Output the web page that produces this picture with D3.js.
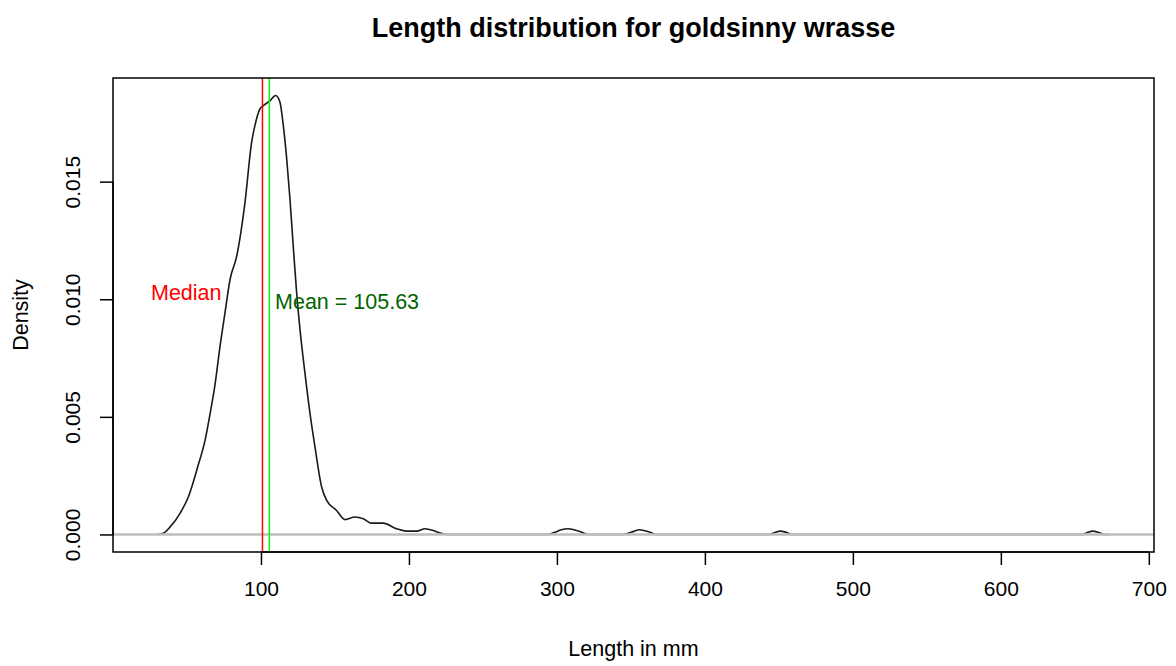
<!DOCTYPE html>
<html lang="en">
<head>
<meta charset="utf-8">
<title>Length distribution for goldsinny wrasse</title>
<script src="https://d3js.org/d3.v7.min.js"></script>
<style>
  body { margin: 0; background: #fff; }
  text { font-family: "Liberation Sans", Arial, sans-serif; }
</style>
</head>
<body>
<svg width="1176" height="666"></svg>
<script>
// density estimate (length in mm, density)
var lengths = [30, 34, 38.5, 45.3, 50.9, 57.6, 62.2, 65.5, 68.9, 72.3, 75.7, 79.1, 83.6, 89.2, 93.7, 95.9, 99.3, 101.6, 106.1, 109.9,
  112.8, 115.1, 117.4, 119.6, 121.8, 124.1, 126.4, 129.7, 133.1, 136.5, 141.0, 144.4, 151.1, 156.8, 163.5, 169.1, 174.8, 182.6,
  191.7, 198.4, 205.2, 210.8, 216.4, 221, 226, 294, 298.6, 303, 307.6, 311.5, 315.5, 321, 344.6, 350.7, 356.1, 362.8, 367.6,
  443.9, 447.5, 451.1, 454.8, 458.6, 655.4, 658.8, 662.2, 665.9, 669.6, 674]
var densities = [0, 0.00005, 0.00031, 0.0009, 0.00159, 0.00295, 0.004, 0.0051, 0.00635, 0.00799, 0.00943, 0.01084, 0.01183, 0.01412, 0.01668, 0.01738, 0.01809, 0.01823, 0.01844, 0.01866,
  0.01839, 0.01738, 0.01596, 0.01425, 0.01226, 0.01028, 0.0087, 0.00687, 0.00516, 0.00372, 0.00202, 0.00145, 0.00102, 0.00063, 0.00074, 0.00067, 0.00048, 0.00048,
  0.00024, 0.00014, 0.00014, 0.00024, 0.00017, 0.00006, 0, 0, 0.00009, 0.0002, 0.00024, 0.0002, 0.00013, 0, 0, 0.0001, 0.0002, 0.00009, 0,
  0, 0.00009, 0.00014, 0.00009, 0, 0, 0.00009, 0.00014, 0.00009, 0, 0]

var xTicks = [100, 200, 300, 400, 500, 600, 700]
var yTicks = [0, 0.005, 0.010, 0.015]

var medianValue = 101
var meanValue = 105.63

var title = "Length distribution for goldsinny wrasse"
var xTitle = "Length in mm"
var yTitle = "Density"

// plot box
var boxLeft = 113, boxRight = 1154, boxTop = 78, boxBottom = 552

var x = d3.scaleLinear().domain([0, 703.5]).range([boxLeft, boxRight])
var y = d3.scaleLinear().domain([-0.000746, 0.019406]).range([boxBottom, boxTop])

var svg = d3.select("svg")

//density curve
var points = lengths.map(function (v, i) { return [v, densities[i]] })
var line = d3.line()
  .x(function (d) { return x(d[0]) })
  .y(function (d) { return y(d[1]) })
  .curve(d3.curveMonotoneX)

svg.append("path")
  .datum(points)
  .attr("d", line)
  .attr("fill", "none")
  .attr("stroke", "#1a1a1a")
  .attr("stroke-width", 1.6)

//zero line (covers the flat parts of the curve), median and mean lines
svg.append("line")
  .attr("x1", boxLeft).attr("x2", boxRight)
  .attr("y1", y(0)).attr("y2", y(0))
  .attr("stroke", "#bebebe").attr("stroke-width", 2.4)

svg.append("line")
  .attr("x1", x(medianValue)).attr("x2", x(medianValue))
  .attr("y1", boxTop).attr("y2", boxBottom)
  .attr("stroke", "#ff0000").attr("stroke-width", 1.5)

svg.append("line")
  .attr("x1", x(meanValue)).attr("x2", x(meanValue))
  .attr("y1", boxTop).attr("y2", boxBottom)
  .attr("stroke", "#00ff00").attr("stroke-width", 1.5)

svg.append("text")
  .attr("x", x(49.5)).attr("y", y(0.00997))
  .attr("text-anchor", "middle")
  .style("font-size", "21.5px")
  .attr("fill", "#ff0000")
  .text("Median")

svg.append("text")
  .attr("x", x(109.5)).attr("y", y(0.0096))
  .style("font-size", "21.5px")
  .attr("fill", "#006400")
  .text("Mean = " + meanValue.toFixed(2))

//box
svg.append("rect")
  .attr("x", boxLeft).attr("y", boxTop)
  .attr("width", boxRight - boxLeft).attr("height", boxBottom - boxTop)
  .attr("fill", "none").attr("stroke", "#000").attr("stroke-width", 1.5)

//axes
var xAxis = svg.append("g")
  .attr("transform", "translate(0," + boxBottom + ")")
  .call(d3.axisBottom(x).tickValues(xTicks).tickSize(13).tickPadding(16).tickFormat(d3.format("d")))
xAxis.select(".domain").attr("d", "M" + x(100) + ",0H" + x(700)).attr("stroke-width", 1.5)
xAxis.selectAll(".tick line").attr("stroke-width", 1.5)
xAxis.selectAll("text").style("font-size", "21px").attr("fill", "#000")

var yAxis = svg.append("g")
  .attr("transform", "translate(" + boxLeft + ",0)")
  .call(d3.axisLeft(y).tickValues(yTicks).tickSize(13).tickFormat(d3.format(".3f")))
yAxis.select(".domain").attr("d", "M0," + y(0) + "V" + y(0.015)).attr("stroke-width", 1.5)
yAxis.selectAll(".tick line").attr("stroke-width", 1.5)
yAxis.selectAll("text")
  .style("font-size", "21px").attr("fill", "#000")
  .attr("x", null).attr("dy", null)
  .attr("text-anchor", "middle")
  .attr("transform", "translate(-33,0) rotate(-90)")

//titles
svg.append("text")
  .attr("x", (boxLeft + boxRight) / 2).attr("y", 37)
  .attr("text-anchor", "middle")
  .style("font-size", "27px").style("font-weight", "bold")
  .text(title)

svg.append("text")
  .attr("x", (boxLeft + boxRight) / 2).attr("y", 656)
  .attr("text-anchor", "middle")
  .style("font-size", "21.5px")
  .text(xTitle)

svg.append("text")
  .attr("transform", "translate(28," + (boxTop + boxBottom) / 2 + ") rotate(-90)")
  .attr("text-anchor", "middle")
  .style("font-size", "21.5px")
  .text(yTitle)
</script>
</body>
</html>
